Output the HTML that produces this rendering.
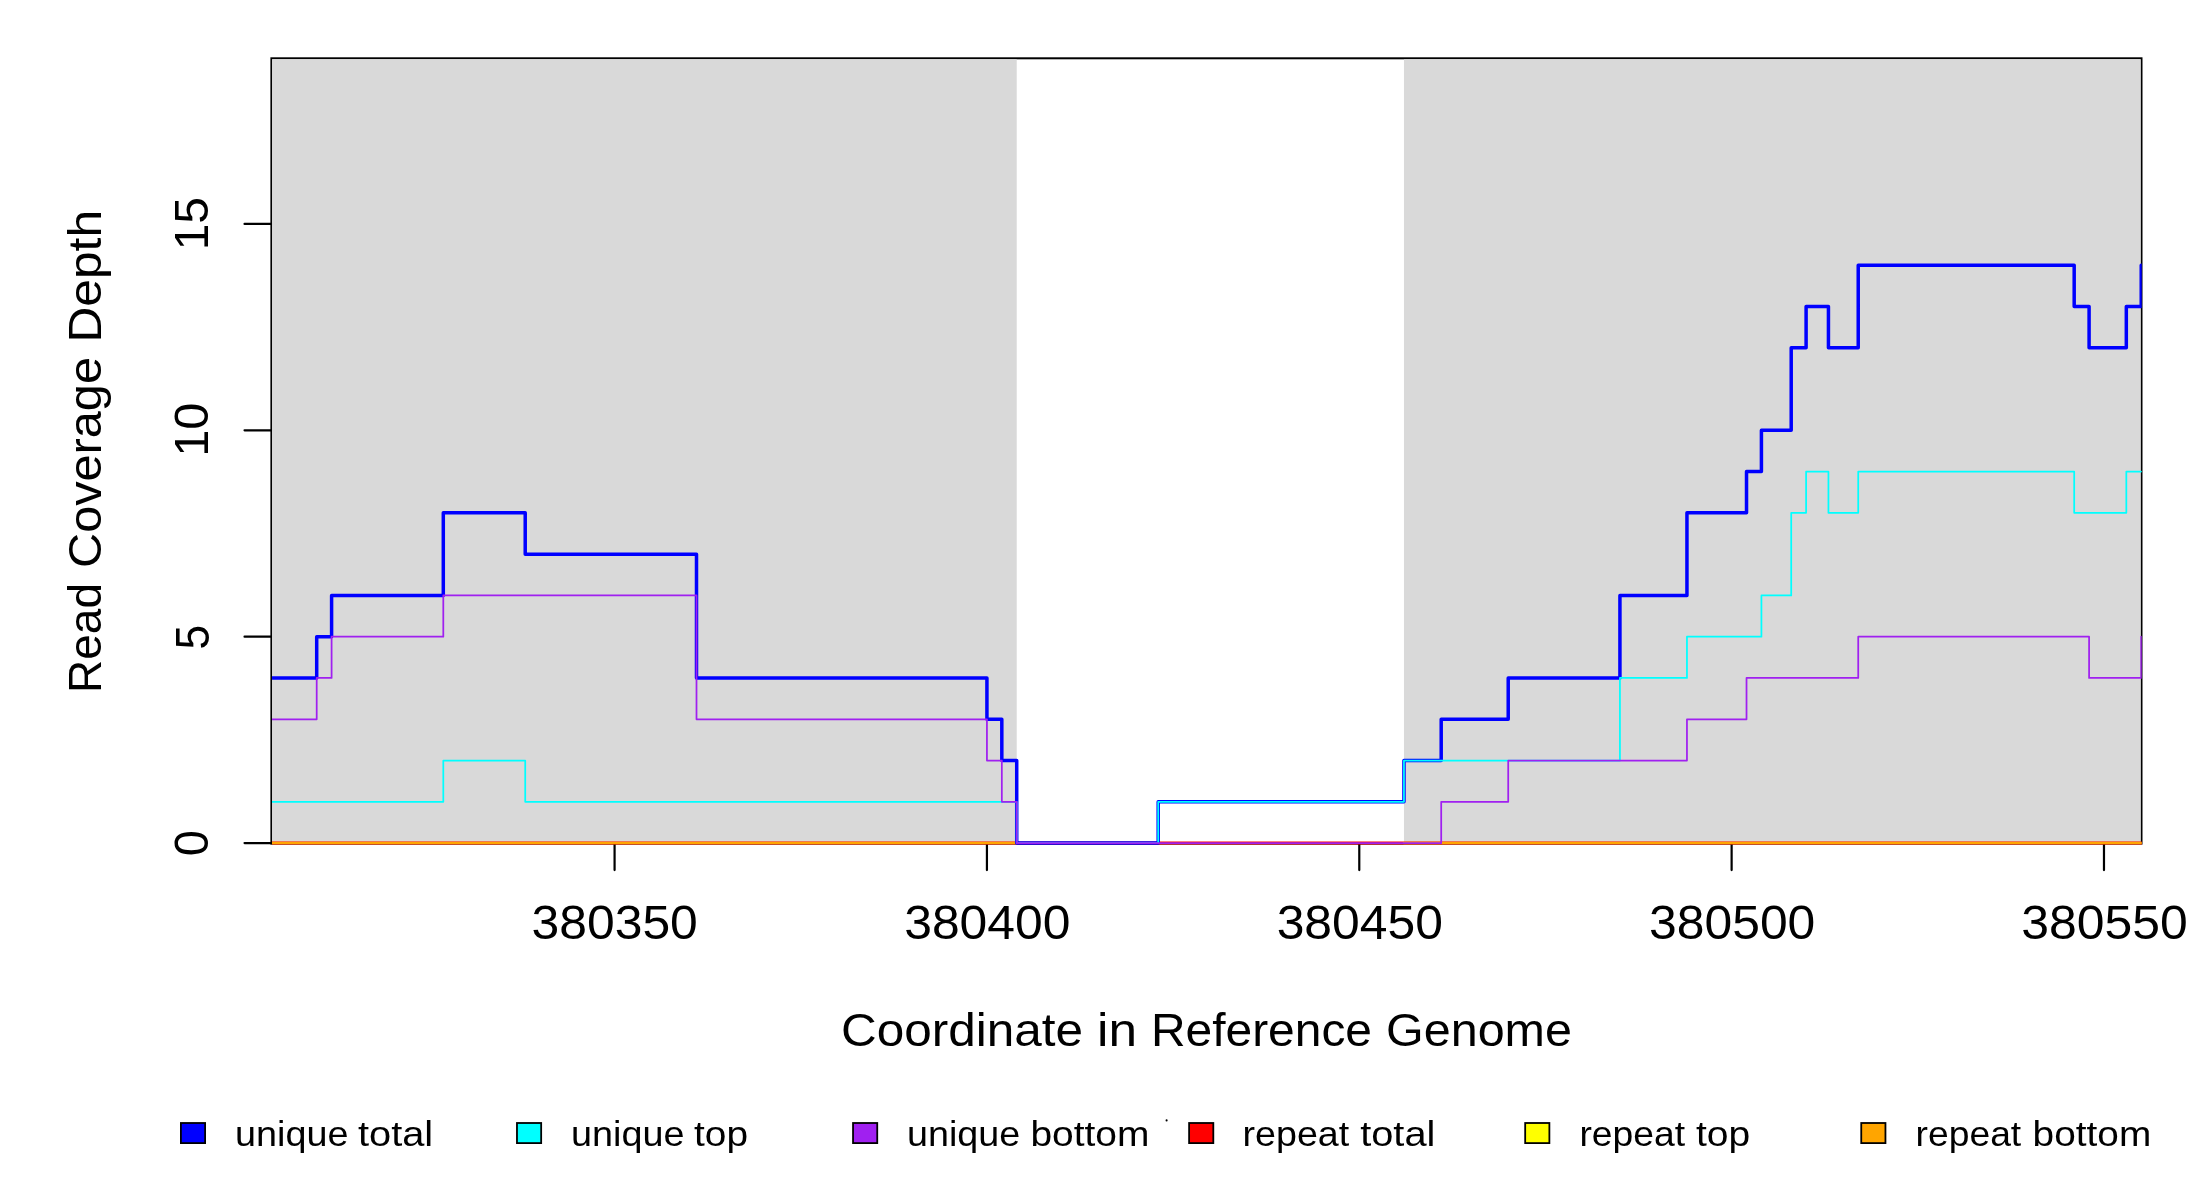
<!DOCTYPE html>
<html><head><meta charset="utf-8"><style>
html,body{margin:0;padding:0;background:#fff;width:2200px;height:1200px;overflow:hidden}
svg{display:block;transform:translateZ(0);will-change:transform}
text{font-family:"Liberation Sans",sans-serif}
</style></head><body>
<svg width="2200" height="1200" viewBox="0 0 2200 1200">
<rect x="0" y="0" width="2200" height="1200" fill="#ffffff"/>
<rect x="271.40" y="58.30" width="1870.10" height="785.30" fill="none" stroke="#000" stroke-width="2"/>
<line x1="244.52" y1="843.10" x2="272.02" y2="843.10" stroke="#000" stroke-width="2.2" stroke-linecap="round"/>
<line x1="244.52" y1="636.70" x2="272.02" y2="636.70" stroke="#000" stroke-width="2.2" stroke-linecap="round"/>
<line x1="244.52" y1="430.30" x2="272.02" y2="430.30" stroke="#000" stroke-width="2.2" stroke-linecap="round"/>
<line x1="244.52" y1="223.90" x2="272.02" y2="223.90" stroke="#000" stroke-width="2.2" stroke-linecap="round"/>
<line x1="614.58" y1="843.10" x2="614.58" y2="870.10" stroke="#000" stroke-width="2.2" stroke-linecap="round"/>
<line x1="986.93" y1="843.10" x2="986.93" y2="870.10" stroke="#000" stroke-width="2.2" stroke-linecap="round"/>
<line x1="1359.28" y1="843.10" x2="1359.28" y2="870.10" stroke="#000" stroke-width="2.2" stroke-linecap="round"/>
<line x1="1731.63" y1="843.10" x2="1731.63" y2="870.10" stroke="#000" stroke-width="2.2" stroke-linecap="round"/>
<line x1="2103.98" y1="843.10" x2="2103.98" y2="870.10" stroke="#000" stroke-width="2.2" stroke-linecap="round"/>
<rect x="272.02" y="59.15" width="744.70" height="783.95" fill="#d9d9d9"/>
<rect x="1403.96" y="59.15" width="736.75" height="783.95" fill="#d9d9d9"/>
<clipPath id="pc"><rect x="272.02" y="58.78" width="1869.70" height="787.32"/></clipPath>
<g clip-path="url(#pc)">
<path d="M272.02,843.10 L2141.22,843.10" fill="none" stroke="#ff0000" stroke-width="3.0" stroke-linejoin="round" stroke-linecap="round"/>
<path d="M272.02,843.10 L1016.72,843.10" fill="none" stroke="#ffa500" stroke-width="2.5" stroke-linejoin="round" stroke-linecap="round"/>
<path d="M1403.96,843.10 L2141.22,843.10" fill="none" stroke="#ffa500" stroke-width="2.5" stroke-linejoin="round" stroke-linecap="round"/>
<path d="M272.02,677.98 L316.70,677.98 L316.70,636.70 L331.59,636.70 L331.59,595.42 L443.30,595.42 L443.30,512.86 L525.22,512.86 L525.22,554.14 L696.50,554.14 L696.50,677.98 L986.93,677.98 L986.93,719.26 L1001.82,719.26 L1001.82,760.54 L1016.72,760.54 L1016.72,843.10 L1158.21,843.10 L1158.21,801.82 L1403.96,801.82 L1403.96,760.54 L1441.20,760.54 L1441.20,719.26 L1508.22,719.26 L1508.22,677.98 L1619.93,677.98 L1619.93,595.42 L1686.95,595.42 L1686.95,512.86 L1746.52,512.86 L1746.52,471.58 L1761.42,471.58 L1761.42,430.30 L1791.21,430.30 L1791.21,347.74 L1806.10,347.74 L1806.10,306.46 L1828.44,306.46 L1828.44,347.74 L1858.23,347.74 L1858.23,265.18 L2074.19,265.18 L2074.19,306.46 L2089.09,306.46 L2089.09,347.74 L2126.32,347.74 L2126.32,306.46 L2141.22,306.46 L2141.22,265.18 L2141.22,265.18" fill="none" stroke="#0000ff" stroke-width="3.5" stroke-linejoin="round" stroke-linecap="round"/>
<path d="M272.02,801.82 L443.30,801.82 L443.30,760.54 L525.22,760.54 L525.22,801.82 L1016.72,801.82 L1016.72,843.10 L1158.21,843.10 L1158.21,801.82 L1403.96,801.82 L1403.96,760.54 L1619.93,760.54 L1619.93,677.98 L1686.95,677.98 L1686.95,636.70 L1761.42,636.70 L1761.42,595.42 L1791.21,595.42 L1791.21,512.86 L1806.10,512.86 L1806.10,471.58 L1828.44,471.58 L1828.44,512.86 L1858.23,512.86 L1858.23,471.58 L2074.19,471.58 L2074.19,512.86 L2126.32,512.86 L2126.32,471.58 L2141.22,471.58" fill="none" stroke="#00ffff" stroke-width="1.75" stroke-linejoin="round" stroke-linecap="round"/>
<path d="M272.02,719.26 L316.70,719.26 L316.70,677.98 L331.59,677.98 L331.59,636.70 L443.30,636.70 L443.30,595.42 L696.50,595.42 L696.50,719.26 L986.93,719.26 L986.93,760.54 L1001.82,760.54 L1001.82,801.82 L1016.72,801.82 L1016.72,843.10 L1441.20,843.10 L1441.20,801.82 L1508.22,801.82 L1508.22,760.54 L1686.95,760.54 L1686.95,719.26 L1746.52,719.26 L1746.52,677.98 L1858.23,677.98 L1858.23,636.70 L2089.09,636.70 L2089.09,677.98 L2141.22,677.98 L2141.22,636.70 L2141.22,636.70" fill="none" stroke="#a020f0" stroke-width="1.75" stroke-linejoin="round" stroke-linecap="round"/>
</g>
<text x="531.61" y="938.90" font-family="Liberation Sans, sans-serif" font-size="49.00" textLength="166.20" lengthAdjust="spacingAndGlyphs">380350</text>
<text x="904.22" y="938.90" font-family="Liberation Sans, sans-serif" font-size="49.00" textLength="166.20" lengthAdjust="spacingAndGlyphs">380400</text>
<text x="1276.67" y="938.90" font-family="Liberation Sans, sans-serif" font-size="49.00" textLength="166.20" lengthAdjust="spacingAndGlyphs">380450</text>
<text x="1649.12" y="938.90" font-family="Liberation Sans, sans-serif" font-size="49.00" textLength="166.20" lengthAdjust="spacingAndGlyphs">380500</text>
<text x="2021.25" y="938.90" font-family="Liberation Sans, sans-serif" font-size="49.00" textLength="166.40" lengthAdjust="spacingAndGlyphs">380550</text>
<text x="0" y="0" font-family="Liberation Sans, sans-serif" font-size="49.00" textLength="26.20" lengthAdjust="spacingAndGlyphs" transform="translate(208.20,856.20) rotate(-90)">0</text>
<text x="0" y="0" font-family="Liberation Sans, sans-serif" font-size="49.00" textLength="24.60" lengthAdjust="spacingAndGlyphs" transform="translate(208.80,649.55) rotate(-90)">5</text>
<text x="0" y="0" font-family="Liberation Sans, sans-serif" font-size="49.00" textLength="54.20" lengthAdjust="spacingAndGlyphs" transform="translate(207.60,456.81) rotate(-90)">10</text>
<text x="0" y="0" font-family="Liberation Sans, sans-serif" font-size="49.00" textLength="53.40" lengthAdjust="spacingAndGlyphs" transform="translate(208.10,250.36) rotate(-90)">15</text>
<text x="841.00" y="1045.75" font-family="Liberation Sans, sans-serif" font-size="47.00" textLength="242.00" lengthAdjust="spacingAndGlyphs">Coordinate</text>
<text x="1097.00" y="1045.75" font-family="Liberation Sans, sans-serif" font-size="47.00" textLength="40.00" lengthAdjust="spacingAndGlyphs">in</text>
<text x="1151.00" y="1045.75" font-family="Liberation Sans, sans-serif" font-size="47.00" textLength="221.00" lengthAdjust="spacingAndGlyphs">Reference</text>
<text x="1386.00" y="1045.75" font-family="Liberation Sans, sans-serif" font-size="47.00" textLength="186.00" lengthAdjust="spacingAndGlyphs">Genome</text>
<text x="0" y="0" font-family="Liberation Sans, sans-serif" font-size="47.00" textLength="110.00" lengthAdjust="spacingAndGlyphs" transform="translate(101.00,693.00) rotate(-90)">Read</text>
<text x="0" y="0" font-family="Liberation Sans, sans-serif" font-size="47.00" textLength="211.00" lengthAdjust="spacingAndGlyphs" transform="translate(101.00,568.00) rotate(-90)">Coverage</text>
<text x="0" y="0" font-family="Liberation Sans, sans-serif" font-size="47.00" textLength="132.50" lengthAdjust="spacingAndGlyphs" transform="translate(101.00,342.50) rotate(-90)">Depth</text>
<text x="235.00" y="1146.20" font-family="Liberation Sans, sans-serif" font-size="35.00" textLength="113.40" lengthAdjust="spacingAndGlyphs">unique</text>
<text x="358.00" y="1146.20" font-family="Liberation Sans, sans-serif" font-size="35.00" textLength="75.20" lengthAdjust="spacingAndGlyphs">total</text>
<text x="571.00" y="1146.20" font-family="Liberation Sans, sans-serif" font-size="35.00" textLength="113.40" lengthAdjust="spacingAndGlyphs">unique</text>
<text x="694.00" y="1146.20" font-family="Liberation Sans, sans-serif" font-size="35.00" textLength="54.00" lengthAdjust="spacingAndGlyphs">top</text>
<text x="907.00" y="1146.20" font-family="Liberation Sans, sans-serif" font-size="35.00" textLength="113.20" lengthAdjust="spacingAndGlyphs">unique</text>
<text x="1030.40" y="1146.20" font-family="Liberation Sans, sans-serif" font-size="35.00" textLength="119.00" lengthAdjust="spacingAndGlyphs">bottom</text>
<text x="1242.60" y="1146.20" font-family="Liberation Sans, sans-serif" font-size="35.00" textLength="106.60" lengthAdjust="spacingAndGlyphs">repeat</text>
<text x="1360.20" y="1146.20" font-family="Liberation Sans, sans-serif" font-size="35.00" textLength="75.20" lengthAdjust="spacingAndGlyphs">total</text>
<text x="1579.40" y="1146.20" font-family="Liberation Sans, sans-serif" font-size="35.00" textLength="105.60" lengthAdjust="spacingAndGlyphs">repeat</text>
<text x="1696.00" y="1146.20" font-family="Liberation Sans, sans-serif" font-size="35.00" textLength="54.20" lengthAdjust="spacingAndGlyphs">top</text>
<text x="1915.60" y="1146.20" font-family="Liberation Sans, sans-serif" font-size="35.00" textLength="105.60" lengthAdjust="spacingAndGlyphs">repeat</text>
<text x="2032.60" y="1146.20" font-family="Liberation Sans, sans-serif" font-size="35.00" textLength="118.60" lengthAdjust="spacingAndGlyphs">bottom</text>
<rect x="180.90" y="1123.0" width="24.2" height="20.1" fill="#0000ff" stroke="#000" stroke-width="1.8"/>
<rect x="516.97" y="1123.0" width="24.2" height="20.1" fill="#00ffff" stroke="#000" stroke-width="1.8"/>
<rect x="853.04" y="1123.0" width="24.2" height="20.1" fill="#a020f0" stroke="#000" stroke-width="1.8"/>
<rect x="1189.11" y="1123.0" width="24.2" height="20.1" fill="#ff0000" stroke="#000" stroke-width="1.8"/>
<rect x="1525.18" y="1123.0" width="24.2" height="20.1" fill="#ffff00" stroke="#000" stroke-width="1.8"/>
<rect x="1861.25" y="1123.0" width="24.2" height="20.1" fill="#ffa500" stroke="#000" stroke-width="1.8"/>
<circle cx="1166.6" cy="1120.4" r="1.05" fill="#000"/>
</svg>
</body></html>
